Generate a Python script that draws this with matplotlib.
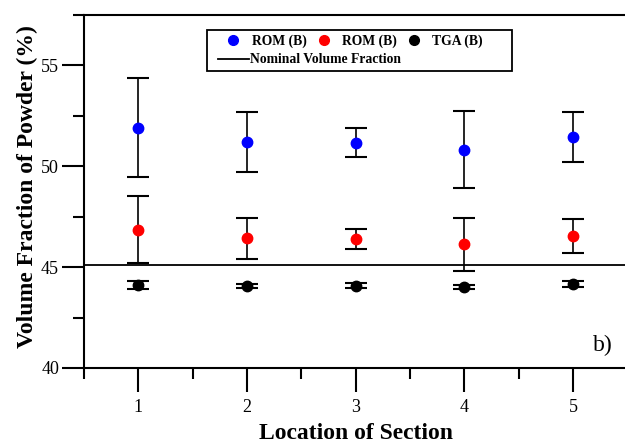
import numpy as np
import matplotlib
matplotlib.use("Agg")
import matplotlib.pyplot as plt
from matplotlib.lines import Line2D
from matplotlib.patches import Rectangle

# data
sections = [1, 2, 3, 4, 5]
rom_blue = [51.91, 51.21, 51.16, 50.83, 51.44]
rom_blue_err = [2.45, 1.47, 0.72, 1.89, 1.23]
rom_red = [46.86, 46.42, 46.39, 46.13, 46.54]
rom_red_err = [1.65, 1.00, 0.50, 1.30, 0.85]
tga = [44.12, 44.07, 44.07, 44.01, 44.16]
tga_err = [0.19, 0.10, 0.12, 0.10, 0.14]
nominal = 45.1

plt.rcParams['font.family'] = ['Liberation Serif', 'DejaVu Serif']

fig = plt.figure(figsize=(6.25, 4.48), dpi=100)
ax = fig.add_axes([84 / 625, 80 / 448, 543.5 / 625, 353 / 448])

eb_kw = dict(fmt='o', markersize=7.5, ecolor='black', elinewidth=1.2,
             capsize=8, capthick=1.5, zorder=3)
ax.errorbar(sections, rom_blue, yerr=rom_blue_err, color='#0000ff', **eb_kw)
ax.errorbar(sections, rom_red, yerr=rom_red_err, color='#ff0000', **eb_kw)
ax.errorbar(sections, tga, yerr=tga_err, color='black', **eb_kw)
ax.axhline(nominal, color='black', lw=1.3, zorder=2)

ax.set_xlim(0.5, 5.5)
ax.set_ylim(40, 57.5)
ax.set_xticks(sections)
ax.set_xticks(np.arange(0.5, 5.6, 1.0), minor=True)
ax.set_yticks([40, 45, 50, 55])
ax.set_yticks(np.arange(42.5, 57.6, 5.0), minor=True)

for s in ['left', 'bottom', 'top']:
    ax.spines[s].set_linewidth(1.5)
ax.spines['right'].set_visible(False)

ax.tick_params(axis='x', which='major', length=17.5, width=1.5, labelsize=13, pad=5)
ax.tick_params(axis='x', which='minor', length=8, width=1.5)
ax.tick_params(axis='y', which='major', length=16, width=1.5, labelsize=13, pad=2)
ax.tick_params(axis='y', which='minor', length=8, width=1.5)

ax.set_xlabel('Location of Section', fontsize=17, fontweight='bold', labelpad=5)
ax.set_ylabel('Volume Fraction of Powder (%)', fontsize=17, fontweight='bold')
ax.yaxis.set_label_coords(-0.085, 0.514)

ax.text(0.937, 0.065, 'b)', transform=ax.transAxes, fontsize=17, va='center')

# legend: three markers on one row, the line below, one shared frame
h1 = Line2D([], [], ls='none', marker='o', color='#0000ff', markersize=7, label='ROM (B)')
h2 = Line2D([], [], ls='none', marker='o', color='#ff0000', markersize=7, label='ROM (B)')
h3 = Line2D([], [], ls='none', marker='o', color='black', markersize=7, label='TGA (B)')
h4 = Line2D([], [], color='black', lw=1.3, label='Nominal Volume Fraction')
leg_font = dict(family='Liberation Serif', weight='bold', size=9.8)
leg1 = ax.legend(handles=[h1, h2, h3], ncol=3, loc='upper left',
                 bbox_to_anchor=(0.245, 0.972), frameon=False, prop=leg_font,
                 handlelength=1.0, handletextpad=0.85, columnspacing=0.75,
                 borderpad=0.2)
ax.add_artist(leg1)
ax.legend(handles=[h4], loc='upper left', bbox_to_anchor=(0.229, 0.918),
          frameon=False, prop=leg_font, handlelength=2.3, handletextpad=0.05,
          borderpad=0.2)
ax.add_patch(Rectangle((0.226, 0.841), 0.562, 0.116, transform=ax.transAxes,
                       fill=False, lw=1.3, edgecolor='black', zorder=5))

fig.savefig('out.png', dpi=100)
